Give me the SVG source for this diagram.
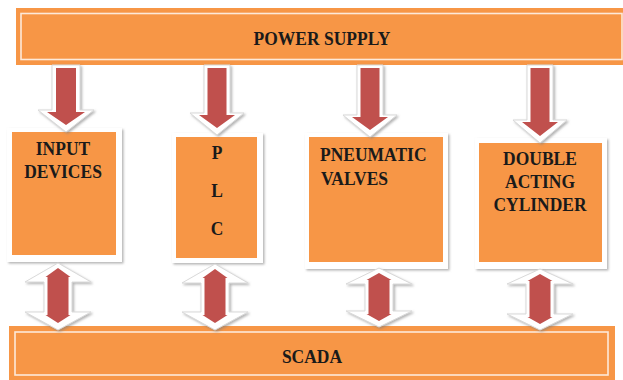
<svg xmlns="http://www.w3.org/2000/svg" width="623" height="380" viewBox="0 0 623 380">
  <defs>
    <filter id="sh" x="-20%" y="-20%" width="140%" height="140%">
      <feDropShadow dx="1.5" dy="1.5" stdDeviation="1" flood-color="#808080" flood-opacity="0.6"/>
    </filter>
  </defs>
  <style>
    .org{fill:#F79646}
    .frame{fill:#ffffff;filter:url(#sh)}
    .inl{fill:none;stroke:#fde9d9;stroke-width:1.6}
    .wa{fill:#ffffff;stroke:#d9d9d9;stroke-width:1;filter:url(#sh)}
    .ra{fill:#C0504D}
    text{font-family:"Liberation Serif","Times New Roman",serif;font-weight:bold;font-size:17.5px;fill:#1a1a1a}
  </style>
  <rect width="623" height="380" fill="#ffffff"/>

  <g id="power-supply">
    <rect class="org" x="16" y="8" width="612" height="57"/>
    <rect class="inl" x="21" y="13.5" width="601" height="46"/>
    <text transform="translate(322,45) scale(1,1.12)" text-anchor="middle">POWER SUPPLY</text>
  </g>

  <g id="scada">
    <rect class="org" x="9" y="326" width="606" height="60"/>
    <rect class="inl" x="15" y="332" width="593" height="43"/>
    <text transform="translate(312,363) scale(1,1.12)" text-anchor="middle">SCADA</text>
  </g>

  <g id="input-devices">
    <rect class="frame" x="7" y="128" width="115" height="134"/>
    <rect class="org" x="12" y="132" width="104" height="123"/>
    <text transform="translate(63,155) scale(1,1.12)" text-anchor="middle">INPUT</text>
    <text transform="translate(63,178) scale(1,1.12)" text-anchor="middle">DEVICES</text>
  </g>

  <g id="plc">
    <rect class="frame" x="172" y="133" width="91" height="130"/>
    <rect class="org" x="176" y="137" width="81" height="121"/>
    <text transform="translate(217,159) scale(1,1.12)" text-anchor="middle">P</text>
    <text transform="translate(217,197) scale(1,1.12)" text-anchor="middle">L</text>
    <text transform="translate(217,235) scale(1,1.12)" text-anchor="middle">C</text>
  </g>

  <g id="pneumatic-valves">
    <rect class="frame" x="305" y="133" width="143" height="136"/>
    <rect class="org" x="309" y="137" width="134" height="125"/>
    <text transform="translate(320,161) scale(1,1.12)">PNEUMATIC</text>
    <text transform="translate(321,185) scale(1,1.12)">VALVES</text>
  </g>

  <g id="double-acting-cylinder">
    <rect class="frame" x="475" y="138" width="132" height="131"/>
    <rect class="org" x="479" y="143" width="123" height="119"/>
    <text transform="translate(540,165) scale(1,1.12)" text-anchor="middle">DOUBLE</text>
    <text transform="translate(540,188) scale(1,1.12)" text-anchor="middle">ACTING</text>
    <text transform="translate(540,211) scale(1,1.12)" text-anchor="middle">CYLINDER</text>
  </g>

  <g id="connectors">
    <!-- down arrows from power supply -->
    <g transform="translate(66,65)">
      <polygon class="wa" points="-14,0 14,0 14,45 28,45 0,67 -28,45 -14,45"/>
      <polygon class="ra" points="-10,3 10,3 10,47 19,47 0,60 -19,47 -10,47"/>
    </g>
    <g transform="translate(217,65)">
      <polygon class="wa" points="-13,0 13,0 13,48 27,48 0,70 -27,48 -13,48"/>
      <polygon class="ra" points="-9.5,3 9.5,3 9.5,50 18,50 0,63 -18,50 -9.5,50"/>
    </g>
    <g transform="translate(370,65)">
      <polygon class="wa" points="-13,0 13,0 13,50 27,50 0,72 -27,50 -13,50"/>
      <polygon class="ra" points="-9.5,3 9.5,3 9.5,52 18,52 0,65 -18,52 -9.5,52"/>
    </g>
    <g transform="translate(540,65)">
      <polygon class="wa" points="-13,0 13,0 13,55 27,55 0,78 -27,55 -13,55"/>
      <polygon class="ra" points="-9.5,3 9.5,3 9.5,57 18,57 0,71 -18,57 -9.5,57"/>
    </g>

    <!-- double arrows to SCADA -->
    <g transform="translate(58,263)">
      <polygon class="wa" points="0,0 33,19 14,19 14,49 33,49 0,67 -33,49 -14,49 -14,19 -33,19"/>
      <polygon class="ra" points="0,5 12.5,14 10.5,14 10.5,52 12.5,52 0,60 -12.5,52 -10.5,52 -10.5,14 -12.5,14"/>
    </g>
    <g transform="translate(215,264)">
      <polygon class="wa" points="0,0 33,19 14,19 14,48 33,48 0,66 -33,48 -14,48 -14,19 -33,19"/>
      <polygon class="ra" points="0,5 12.5,14 10.5,14 10.5,51 12.5,51 0,59 -12.5,51 -10.5,51 -10.5,14 -12.5,14"/>
    </g>
    <g transform="translate(379,268)">
      <polygon class="wa" points="0,0 33,16 14,16 14,43 33,43 0,59 -33,43 -14,43 -14,16 -33,16"/>
      <polygon class="ra" points="0,5 12.5,12 10.5,12 10.5,46 12.5,46 0,53 -12.5,46 -10.5,46 -10.5,12 -12.5,12"/>
    </g>
    <g transform="translate(540,269)">
      <polygon class="wa" points="0,0 33,15 14,15 14,45 33,45 0,61 -33,45 -14,45 -14,15 -33,15"/>
      <polygon class="ra" points="0,5 12.5,12 10.5,12 10.5,48 12.5,48 0,55 -12.5,48 -10.5,48 -10.5,12 -12.5,12"/>
    </g>
  </g>
</svg>
